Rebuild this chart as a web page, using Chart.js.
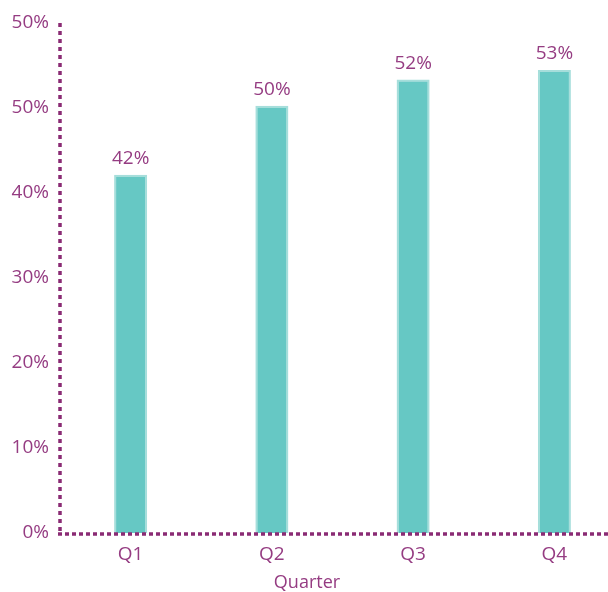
<!DOCTYPE html>
<html><head><meta charset="utf-8">
<script src="https://cdn.jsdelivr.net/npm/chart.js@4/dist/chart.umd.min.js"></script>
<style>html,body{margin:0;padding:0;background:#fff;overflow:hidden;width:608px;height:592px}</style>
</head><body>
<canvas id="c" width="625" height="592" style="display:block"></canvas>
<script>
const categories = ['Q1', 'Q2', 'Q3', 'Q4'];
const shareValues = [42.1, 50.2, 53.3, 54.4];
const valueLabels = ['42%', '50%', '52%', '53%'];
const yTickLabels = ['0%', '10%', '20%', '30%', '40%', '50%', '50%'];
const xAxisTitle = 'Quarter';

const PURPLE = '#8a2b74';
const TEXT = '#953c82';
const FONT = "'Open Sans', sans-serif";

const valueLabelPlugin = {
  id: 'valueLabels',
  afterDatasetsDraw(chart) {
    const ctx = chart.ctx;
    const meta = chart.getDatasetMeta(0);
    ctx.save();
    ctx.font = '19px ' + FONT;
    ctx.fillStyle = TEXT;
    ctx.textAlign = 'center';
    ctx.textBaseline = 'middle';
    meta.data.forEach((bar, i) => ctx.fillText(valueLabels[i], bar.x, bar.y - 16));
    ctx.restore();
  }
};
const dottedAxesPlugin = {
  id: 'dottedAxes',
  afterDraw(chart) {
    const ctx = chart.ctx;
    const a = chart.chartArea;
    ctx.save();
    ctx.strokeStyle = PURPLE;
    ctx.lineWidth = 3.5;
    ctx.setLineDash([4, 4]);
    ctx.beginPath();
    ctx.moveTo(a.left, a.bottom - 2);
    ctx.lineTo(a.left, a.top - 3);
    ctx.stroke();
    ctx.lineWidth = 3.5;
    ctx.setLineDash([4, 3]);
    ctx.beginPath();
    ctx.moveTo(a.left - 2, a.bottom + 1);
    ctx.lineTo(a.right, a.bottom + 1);
    ctx.stroke();
    ctx.restore();
    ctx.save();
    ctx.font = '18px ' + FONT;
    ctx.fillStyle = TEXT;
    ctx.textAlign = 'center';
    ctx.textBaseline = 'middle';
    ctx.fillText(xAxisTitle, 307, 583);
    ctx.restore();
  }
};

new Chart(document.getElementById('c'), {
  type: 'bar',
  data: {
    labels: categories,
    datasets: [{
      data: shareValues,
      backgroundColor: '#66c8c4',
      borderColor: '#a6dedb',
      borderWidth: 2,
      barPercentage: 0.234,
      categoryPercentage: 1
    }]
  },
  options: {
    responsive: false,
    animation: false,
    devicePixelRatio: 1,
    layout: { padding: { top: 20, left: 0, right: 0, bottom: 0 } },
    plugins: { legend: { display: false }, tooltip: { enabled: false } },
    scales: {
      x: {
        grid: { display: false, drawTicks: false },
        border: { display: false },
        ticks: { color: TEXT, font: { family: FONT, size: 19 }, padding: 10 },
        afterFit: s => { s.height = 59; }
      },
      y: {
        min: 0, max: 60,
        grid: { display: false, drawTicks: false },
        border: { display: false },
        ticks: {
          stepSize: 10, color: TEXT, font: { family: FONT, size: 19 }, padding: 11,
          callback: (v, i) => yTickLabels[i]
        },
        afterFit: s => { s.width = 60; }
      }
    }
  },
  plugins: [valueLabelPlugin, dottedAxesPlugin]
});
</script>
</body></html>
